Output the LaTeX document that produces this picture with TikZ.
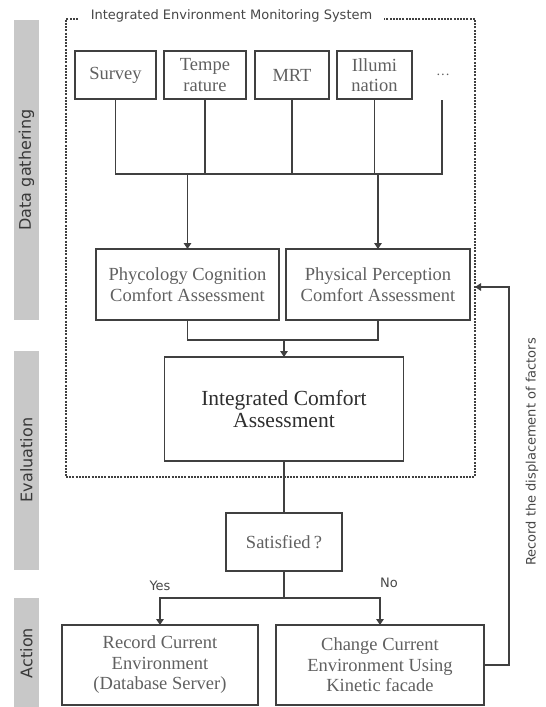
\documentclass[tikz,border=0pt]{standalone}
\usepackage{fontspec}
\setmainfont{Liberation Serif}
\newfontfamily\labfont{DejaVu Sans}
\usetikzlibrary{arrows.meta}
\definecolor{linec}{HTML}{404040}
\definecolor{boxtext}{HTML}{606060}
\definecolor{barc}{HTML}{C8C8C8}
\begin{document}
\begin{tikzpicture}[x=1pt,y=-1pt,
  box/.style={draw=linec, line width=1.8pt, align=center, text=boxtext,
    font=\fontsize{18.5}{20.5}\selectfont, inner sep=0pt, outer sep=0pt},
  conn/.style={draw=linec, line width=1.7pt},
  arr/.style={conn, -{Triangle[length=6pt,width=7.5pt]}},
  sans/.style={font=\labfont\fontsize{13}{15}\selectfont, text=black!72},
  barlab/.style={font=\labfont\fontsize{16}{18}\selectfont, rotate=90, text=black!78}]
\useasboundingbox (0,0) rectangle (546,707);
% side bars
\fill[barc] (14,20) rectangle (39,320);
\fill[barc] (14,351) rectangle (39,570);
\fill[barc] (14,598) rectangle (39,707);
\node[barlab] (lab1) at (26.5,170) {Data gathering};
\node[barlab] (lab2) at (26.5,460) {Evaluation};
\node[barlab] (lab3) at (26.5,653) {Action};
% dashed system box
\node[draw=linec, line width=1.5pt, dash pattern=on 2pt off 1.2pt,
  minimum width=409pt, minimum height=458pt, inner sep=0pt, outer sep=0pt] (sys) at (270.5,248) {};
\node[sans, fill=white, inner xsep=12pt, inner ysep=3pt] (title) at (231.5,16) {Integrated Environment Monitoring System};
% top boxes
\node[box, minimum width=81pt, minimum height=48pt] (survey) at (115.5,75) {Survey};
\node[box, minimum width=82pt, minimum height=48pt] (temp) at (205,75) {Tempe\\rature};
\node[box, minimum width=74pt, minimum height=48pt] (mrt) at (292,75) {MRT};
\node[box, minimum width=75pt, minimum height=48pt] (illum) at (374.5,75) {Illumi\\nation};
\node[text=boxtext, font=\fontsize{14}{16}\selectfont] (dots) at (443,77) {···};
\coordinate (dotsend) at (442,100);
\coordinate (busR) at (442,174);
\draw[conn] (survey.south) |- (busR) -- (dotsend);
\draw[conn] (temp.south) -- (temp.south |- busR);
\draw[conn] (mrt.south) -- (mrt.south |- busR);
\draw[conn] (illum.south) -- (illum.south |- busR);
% assessments
\node[box, minimum width=183pt, minimum height=71pt] (phy) at (187.5,284.5) {Phycology Cognition\\Comfort Assessment};
\node[box, minimum width=184pt, minimum height=71pt] (phs) at (378,284.5) {Physical Perception\\Comfort Assessment};
\draw[arr] (phy.north |- busR) -- (phy.north);
\draw[arr] (phs.north |- busR) -- (phs.north);
\node[box, font=\fontsize{21.5}{22}\selectfont, text=black!82, minimum width=239pt, minimum height=104pt] (integ) at (284,409) {Integrated Comfort\\Assessment};
\coordinate (join) at (284,340);
\draw[conn] (phy.south) |- (join) -| (phs.south);
\draw[arr] (join) -- (integ.north);
% decision
\node[box, minimum width=116pt, minimum height=58pt] (sat) at (284,542) {Satisfied\,?};
\draw[conn] (integ) -- (sat);
\coordinate (split) at (284,598);
\draw[conn] (sat) -- (split);
\node[box, minimum width=196pt, minimum height=80pt] (rec) at (160,665) {Record Current\\Environment\\(Database Server)};
\node[box, minimum width=208pt, minimum height=80pt] (chg) at (380,665) {Change Current\\Environment Using\\Kinetic facade};
\draw[arr] (split) -| (rec.north);
\draw[arr] (split) -| (chg.north);
\node[sans] (yes) at (160,586) {Yes};
\node[sans] (no) at (389,583) {No};
% feedback
\coordinate (fbc) at (509,287);
\draw[arr] (chg.east) -| (fbc) -- (sys.east |- fbc);
\node[sans, rotate=90] (fblab) at (532,452) {Record the displacement of factors};
\end{tikzpicture}
\end{document}
